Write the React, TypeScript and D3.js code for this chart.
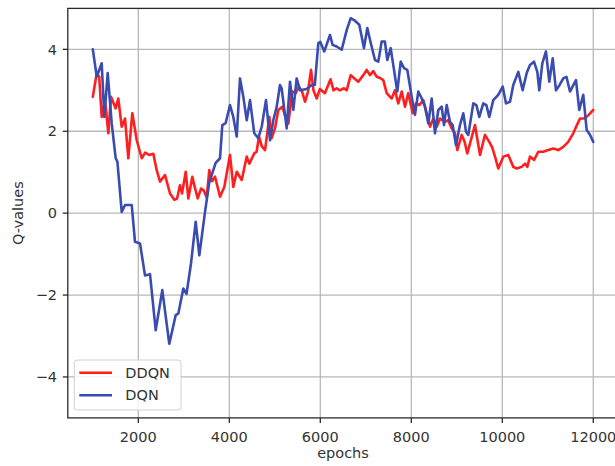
import React from "react";
import * as d3 from "d3";

const xTicks = [2000, 4000, 6000, 8000, 10000, 12000];
const yTicks = [-4, -2, 0, 2, 4];

const ddqnEpochs = [
  1000, 1086, 1140, 1195, 1268, 1341, 1400, 1500, 1560, 1635, 1708, 1780, 1868, 1965, 2075, 2150, 2240, 2330,
  2404, 2477, 2587, 2697, 2791, 2850, 2916, 2960, 3042, 3099, 3187, 3240, 3305, 3378, 3440, 3503, 3560, 3620,
  3686, 3796, 3890, 4015, 4088, 4163, 4273, 4383, 4440, 4549, 4600, 4653, 4715, 4785, 4880, 4930, 5004, 5077,
  5165, 5220, 5297, 5385, 5460, 5531, 5600, 5663, 5730, 5796, 5850, 5921, 5990, 6100, 6225, 6290, 6360, 6430,
  6520, 6580, 6668, 6750, 6835, 6945, 7019, 7090, 7165, 7240, 7312, 7385, 7459, 7569, 7640, 7714, 7789, 7861,
  7934, 8031, 8103, 8180, 8264, 8338, 8411, 8484, 8560, 8630, 8741, 8810, 8888, 8960, 9011, 9108, 9170, 9231,
  9400, 9510, 9620, 9714, 9780, 9840, 9912, 10022, 10132, 10242, 10316, 10426,
  10500, 10550, 10609, 10700, 10791, 10900, 11011, 11120, 11230, 11341, 11450, 11560, 11640, 11708, 11810,
  11900, 12000,
];
const ddqnValues = [
  2.84, 3.42, 3.33, 2.35, 2.76, 1.95, 2.84, 2.56, 2.8, 2.11, 2.31, 1.34, 2.44, 1.78, 1.34, 1.48, 1.42, 1.45,
  1.05, 0.77, 0.93, 0.48, 0.33, 0.35, 0.68, 0.48, 1.01, 0.36, 0.89, 0.64, 0.36, 0.6, 0.55, 0.38, 1.05, 0.78,
  0.89, 0.4, 0.64, 1.42, 0.64, 1.01, 0.81, 1.38, 1.21, 1.46, 1.5, 1.87, 1.63, 1.54, 2.35, 1.83, 2.07, 2.52,
  2.6, 2.4, 2.19, 2.97, 2.93, 3.09, 2.97, 2.72, 2.97, 3.5, 3.0, 2.8, 3.03, 2.93, 3.27, 3.0, 3.05, 3.0,
  3.05, 3.0, 3.37, 3.29, 3.21, 3.37, 3.5, 3.37, 3.47, 3.33, 3.3, 3.25, 2.93, 2.8, 3.0, 2.68, 2.97, 2.6,
  2.93, 2.44, 2.68, 2.64, 2.76, 2.44, 2.11, 2.31, 2.11, 2.31, 2.23, 2.27, 2.07, 1.95, 1.54, 1.91, 1.75, 1.46,
  2.15, 1.42, 1.91, 1.74, 1.6, 1.38, 1.09, 1.38, 1.42, 1.13, 1.09, 1.13,
  1.21, 1.13, 1.38, 1.3, 1.5, 1.5, 1.54, 1.58, 1.54, 1.62, 1.74, 1.95, 2.15, 2.31, 2.31,
  2.4, 2.52,
];

const dqnEpochs = [
  1000, 1086, 1195, 1253, 1327, 1415, 1503, 1540, 1635, 1708, 1855, 1927, 2037, 2147, 2257, 2382, 2527, 2681,
  2822, 2880, 2989, 3060, 3158, 3261, 3341, 3466, 3560, 3700, 3796, 3846, 3920, 4015, 4088, 4163, 4235, 4308,
  4383, 4455, 4549, 4637, 4712, 4806, 4895, 4967, 5042, 5114, 5150, 5261, 5334, 5407, 5481, 5554, 5700, 5811,
  5880, 5956, 6000, 6088, 6213, 6270, 6360, 6470, 6580, 6668, 6760, 6857, 6960, 7033, 7110, 7202, 7275, 7349,
  7420, 7473, 7547, 7620, 7692, 7767, 7840, 7912, 8009, 8081, 8154, 8230, 8301, 8374, 8448, 8521, 8594, 8668,
  8719, 8778, 8850, 8910, 8983, 9070, 9143, 9202, 9253, 9363, 9430, 9495, 9582, 9650, 9714, 9802, 9912, 10009,
  10082, 10170, 10242, 10352, 10448, 10536, 10609, 10697, 10770, 10813, 10880, 10960, 11033, 11108, 11180,
  11260, 11341, 11410, 11488, 11620, 11692, 11780, 11855, 11930, 12000,
];
const dqnValues = [
  4.0, 3.33, 3.66, 2.35, 3.42, 2.19, 1.34, 1.26, 0.03, 0.2, 0.2, -0.7, -0.74, -1.52, -1.49, -2.86, -1.88, -3.19,
  -2.49, -2.45, -1.84, -1.97, -1.23, -0.21, -1.03, 0.03, 0.75, 1.23, 1.34, 2.15, 2.2, 2.64, 2.35, 1.87, 3.29, 2.84,
  2.27, 2.76, 1.95, 1.83, 2.11, 2.76, 1.78, 2.27, 2.6, 3.13, 3.05, 2.07, 3.21, 2.52, 3.29, 3.0, 3.03, 3.13,
  3.13, 4.15, 4.18, 3.95, 4.35, 4.11, 4.07, 3.99, 4.47, 4.76, 4.7, 4.6, 4.03, 4.52, 4.15, 3.74, 3.7, 4.19,
  4.19, 3.74, 4.03, 3.5, 2.97, 3.7, 3.54, 3.5, 2.84, 2.4, 2.97, 2.8, 2.6, 2.19, 2.8, 1.95, 2.52, 2.6,
  2.15, 2.64, 2.23, 2.15, 1.66, 2.15, 2.44, 1.99, 1.91, 2.68, 2.64, 2.35, 2.68, 2.64, 2.35, 2.76, 2.89, 3.09,
  2.68, 2.72, 3.13, 3.45, 3.0, 3.42, 3.62, 3.7, 3.45, 3.0, 3.66, 3.95, 3.21, 3.78, 3.0,
  3.13, 3.29, 3.33, 2.97, 3.25, 2.52, 2.89, 2.03, 1.91, 1.74,
];

const seriesNames = ["DDQN", "DQN"];
const seriesColors = ["#ff1f1f", "#3a4cb0"];

const W = 615;
const H = 466;
const FONT = "'DejaVu Sans', sans-serif";
const FS = 14.5;

export default function App() {
  const x = d3.scaleLinear().domain([450, 12550]).range([67.8, 618.3]);
  const y = d3.scaleLinear().domain([-5, 5]).range([417.9, 8.4]);
  const line = d3
    .line<[number, number]>()
    .x((d) => x(d[0]))
    .y((d) => y(d[1]));

  const series = [
    ddqnEpochs.map((e, i) => [e, ddqnValues[i]] as [number, number]),
    dqnEpochs.map((e, i) => [e, dqnValues[i]] as [number, number]),
  ];

  const [x0, x1] = x.range();
  const [yb, yt] = y.range();

  return (
    <div style={{ position: "fixed", left: 0, top: 0, width: W, height: H, background: "#fff" }}>
      <svg width={W} height={H} style={{ display: "block" }} fontFamily={FONT}>
        <rect x={0} y={0} width={W} height={H} fill="#fff" />
        <defs>
          <clipPath id="plotclip">
            <rect x={x0} y={yt} width={x1 - x0} height={yb - yt} />
          </clipPath>
        </defs>
        {xTicks.map((t) => (
          <line key={"gx" + t} x1={x(t)} x2={x(t)} y1={yt} y2={yb} stroke="#b8b8b8" strokeWidth={1.3} />
        ))}
        {yTicks.map((t) => (
          <line key={"gy" + t} x1={x0} x2={x1} y1={y(t)} y2={y(t)} stroke="#b8b8b8" strokeWidth={1.3} />
        ))}
        <g clipPath="url(#plotclip)">
          {series.map((s, i) => (
            <path
              key={seriesNames[i]}
              d={line(s) || ""}
              fill="none"
              stroke={seriesColors[i]}
              strokeWidth={2.6}
              strokeLinejoin="round"
              strokeLinecap="round"
            />
          ))}
        </g>
        <rect x={x0} y={yt} width={x1 - x0} height={yb - yt} fill="none" stroke="#2a2a2a" strokeWidth={1.3} />
        {xTicks.map((t) => (
          <g key={"xt" + t}>
            <line x1={x(t)} x2={x(t)} y1={yb} y2={yb + 5} stroke="#2a2a2a" strokeWidth={1.3} />
            <text x={x(t)} y={442} textAnchor="middle" fontSize={FS} fill="#333">
              {String(t)}
            </text>
          </g>
        ))}
        {yTicks.map((t) => (
          <g key={"yt" + t}>
            <line x1={x0 - 5} x2={x0} y1={y(t)} y2={y(t)} stroke="#2a2a2a" strokeWidth={1.3} />
            <text x={57} y={y(t) + 5.2} textAnchor="end" fontSize={FS} fill="#333">
              {t < 0 ? "\u2212" + Math.abs(t) : String(t)}
            </text>
          </g>
        ))}
        <text x={343} y={458} textAnchor="middle" fontSize={FS} fill="#333">
          epochs
        </text>
        <text
          transform={`translate(23.3, ${y(0)}) rotate(-90)`}
          textAnchor="middle"
          fontSize={FS}
          fill="#333"
        >
          Q-values
        </text>
        <rect x={74.3} y={360} width={106.7} height={50} rx={3} fill="#fff" fillOpacity={0.85} stroke="#d0d0d0" strokeWidth={1} />
        {seriesNames.map((n, i) => (
          <g key={"lg" + n}>
            <line x1={79.3} x2={112} y1={372.7 + i * 22.5} y2={372.7 + i * 22.5} stroke={seriesColors[i]} strokeWidth={2.6} />
            <text x={125.3} y={372.7 + i * 22.5 + 5.2} fontSize={FS} fill="#333">
              {n}
            </text>
          </g>
        ))}
      </svg>
    </div>
  );
}
